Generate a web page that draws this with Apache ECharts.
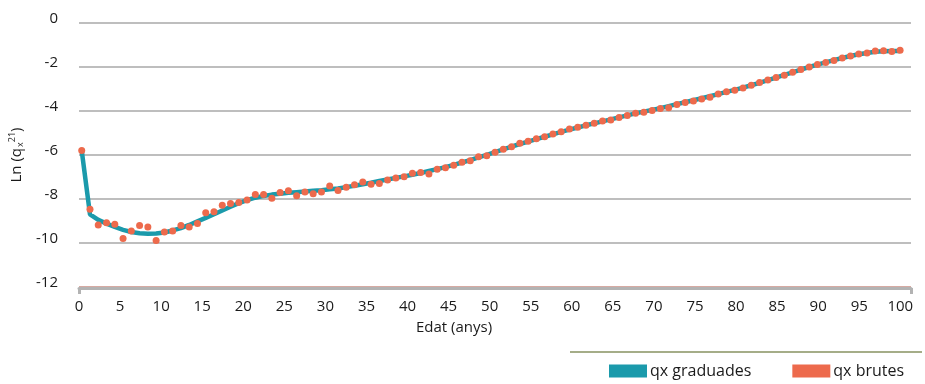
<!DOCTYPE html>
<html>
<head>
<meta charset="utf-8">
<script src="https://cdn.jsdelivr.net/npm/echarts@6/dist/echarts.min.js"></script>
<style>html,body{margin:0;padding:0;background:#fff}#c{width:925px;height:384px}</style>
</head>
<body>
<div id="c"></div>
<script>
const ages = [0,1,2,3,4,5,6,7,8,9,10,11,12,13,14,15,16,17,18,19,20,21,22,23,24,25,26,27,28,29,30,31,32,33,34,35,36,37,38,39,40,41,42,43,44,45,46,47,48,49,50,51,52,53,54,55,56,57,58,59,60,61,62,63,64,65,66,67,68,69,70,71,72,73,74,75,76,77,78,79,80,81,82,83,84,85,86,87,88,89,90,91,92,93,94,95,96,97,98,99];

const qxBrutes = [-5.80,-8.47,-9.18,-9.08,-9.15,-9.80,-9.45,-9.21,-9.27,-9.89,
-9.50,-9.45,-9.20,-9.27,-9.11,-8.62,-8.58,-8.28,-8.21,-8.16,
-8.05,-7.79,-7.79,-7.97,-7.71,-7.62,-7.85,-7.68,-7.76,-7.68,
-7.41,-7.61,-7.47,-7.35,-7.23,-7.33,-7.29,-7.14,-7.05,-6.99,
-6.83,-6.80,-6.86,-6.65,-6.58,-6.47,-6.33,-6.26,-6.08,-6.03,
-5.88,-5.74,-5.62,-5.47,-5.38,-5.26,-5.17,-5.05,-4.94,-4.82,
-4.74,-4.65,-4.56,-4.45,-4.41,-4.29,-4.21,-4.10,-4.06,-3.98,
-3.89,-3.85,-3.71,-3.61,-3.55,-3.45,-3.38,-3.23,-3.12,-3.06,
-2.95,-2.83,-2.71,-2.59,-2.48,-2.38,-2.24,-2.11,-2.00,-1.89,
-1.80,-1.71,-1.59,-1.50,-1.41,-1.36,-1.27,-1.26,-1.29,-1.24];

const qxGraduades = [-5.80,-8.70,-8.95,-9.12,-9.27,-9.40,-9.50,-9.56,-9.58,-9.57,
-9.52,-9.43,-9.32,-9.18,-9.02,-8.86,-8.69,-8.52,-8.35,-8.19,
-8.05,-7.94,-7.86,-7.80,-7.76,-7.72,-7.69,-7.66,-7.63,-7.60,
-7.56,-7.52,-7.46,-7.40,-7.33,-7.26,-7.18,-7.11,-7.04,-6.97,
-6.90,-6.82,-6.73,-6.64,-6.55,-6.45,-6.34,-6.23,-6.11,-5.99,
-5.87,-5.74,-5.62,-5.50,-5.39,-5.28,-5.17,-5.06,-4.95,-4.85,
-4.75,-4.65,-4.56,-4.47,-4.38,-4.29,-4.20,-4.11,-4.03,-3.95,
-3.87,-3.78,-3.69,-3.60,-3.51,-3.42,-3.33,-3.23,-3.13,-3.04,
-2.94,-2.83,-2.72,-2.60,-2.48,-2.36,-2.24,-2.12,-2.00,-1.89,
-1.79,-1.69,-1.59,-1.50,-1.42,-1.36,-1.31,-1.28,-1.27,-1.27];

const xTickLabels = [0,5,10,15,20,25,30,35,40,45,50,55,60,65,70,75,80,85,90,95,100];
const yTickLabels = [-12,-10,-8,-6,-4,-2,0];

const seriesNames = ['qx graduades', 'qx brutes'];
const TEAL = '#1b9aab';
const ORANGE = '#ed6a4c';
const FONT = 'Open Sans';

const chart = echarts.init(document.getElementById('c'), null, {renderer: 'canvas'});
chart.setOption({
  animation: false,
  textStyle: {fontFamily: FONT},
  grid: {left: 79, right: 14, top: 23, bottom: 97},
  graphic: [{
    type: 'line',
    shape: {x1: 570, y1: 352, x2: 922, y2: 352},
    style: {stroke: '#a5ad88', lineWidth: 2},
    silent: true
  }],
  legend: {
    data: seriesNames,
    left: 604,
    top: 358,
    icon: 'rect',
    itemWidth: 38,
    itemHeight: 13,
    itemGap: 41,
    textStyle: {fontFamily: FONT, fontSize: 16, color: '#1a1a1a', padding: [0, 0, 0, -2]}
  },
  xAxis: [{
    type: 'value',
    min: 0,
    max: 101.3,
    position: 'bottom',
    offset: 1,
    splitLine: {show: false},
    axisLine: {show: true, onZero: false, lineStyle: {color: '#b3b3b3', width: 3}},
    axisTick: {show: true, customValues: [0, 101.3], length: 6, lineStyle: {color: '#b3b3b3', width: 3}},
    axisLabel: {customValues: xTickLabels, fontSize: 15, color: '#1a1a1a', margin: 11, fontFamily: FONT},
    name: 'Edat (anys)',
    nameLocation: 'middle',
    nameGap: 32,
    nameTextStyle: {fontSize: 15, color: '#1a1a1a', fontFamily: FONT, padding: [0, 82, 0, 0]}
  }, {
    type: 'value',
    min: -0.33,
    max: 100.32,
    show: false
  }],
  yAxis: {
    type: 'value',
    min: -12,
    max: 0,
    interval: 2,
    axisLine: {show: false},
    axisTick: {show: false},
    axisLabel: {customValues: yTickLabels, fontSize: 15, color: '#1a1a1a', margin: 21, fontFamily: FONT, verticalAlign: 'bottom', lineHeight: 9},
    splitLine: {show: true, lineStyle: {color: ['#c98e84', '#a9a9a9', '#a9a9a9', '#a9a9a9', '#a9a9a9', '#a9a9a9', '#a9a9a9'], width: 1.5}},
    name: 'Ln (q{sub|x}{sup|21})',
    nameLocation: 'middle',
    nameRotate: 90,
    nameGap: 54,
    nameTextStyle: {
      fontSize: 15, color: '#1a1a1a', fontFamily: FONT,
      rich: {
        sub: {fontSize: 9, color: '#1a1a1a', fontFamily: FONT, verticalAlign: 'bottom', padding: [6, 0, 0, 1]},
        sup: {fontSize: 9, color: '#1a1a1a', fontFamily: FONT, verticalAlign: 'top', padding: [0, 0, 8, 0]}
      }
    }
  },
  series: [{
    name: seriesNames[0],
    type: 'line',
    xAxisIndex: 1,
    data: ages.map((a, i) => [a, qxGraduades[i]]),
    symbol: 'none',
    lineStyle: {color: TEAL, width: 4.5},
    itemStyle: {color: TEAL},
    z: 2
  }, {
    name: seriesNames[1],
    type: 'scatter',
    xAxisIndex: 1,
    data: ages.map((a, i) => [a, qxBrutes[i]]),
    symbol: 'circle',
    symbolSize: 7,
    itemStyle: {color: ORANGE, opacity: 1},
    z: 3
  }]
});
</script>
</body>
</html>
